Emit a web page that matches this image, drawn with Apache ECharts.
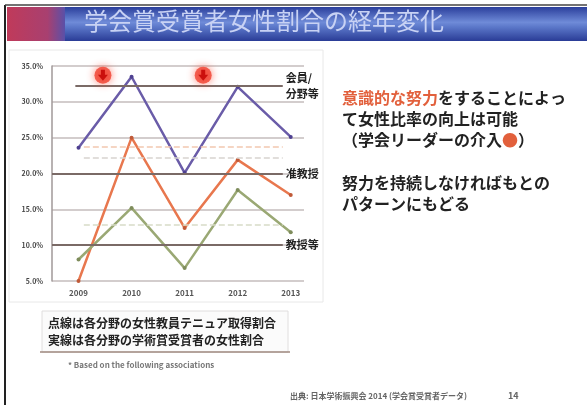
<!DOCTYPE html>
<html><head><meta charset="utf-8">
<script src="https://cdn.jsdelivr.net/npm/echarts@6/dist/echarts.min.js"></script>
<style>html,body{margin:0;padding:0;background:#fff}#c{width:587px;height:405px}</style>
</head><body><div id="c"></div>
<script>
var years = [2009, 2010, 2011, 2012, 2013];
var yTicks = [5, 10, 15, 20, 25, 30, 35];
var awardAll = [23.6, 33.5, 20.1, 32.1, 25.1];      // purple
var awardProf = [5.0, 25.0, 12.4, 21.9, 17.0];      // orange
var awardAssist = [8.0, 15.2, 6.8, 17.7, 11.8];     // green
var refLines = [
  {name: '会員/\n分野等', value: 32.3},
  {name: '准教授', value: 20.0},
  {name: '教授等', value: 10.0}
];
var faintLines = [23.7, 22.2, 12.8];
var interventions = [{x: 2009.46, y: 33.7}, {x: 2011.35, y: 33.7}];

var FONT = '"Noto Sans CJK JP", sans-serif';
function pts(arr){ return years.map(function(y,i){ return [y, arr[i]]; }); }

var chart = echarts.init(document.getElementById('c'));
var refData = refLines.map(function(r, i){
  var startX = i === 0 ? 2008.94 : 2008.5;
  return [
    {coord: [startX, r.value], lineStyle: {color: '#7a6a66', width: 2, type: 'solid'}},
    {coord: [2012.85, r.value], label: {show: true, position: 'end', formatter: r.name, color: '#222', fontSize: 11, fontWeight: 'bold', fontFamily: FONT, lineHeight: 16, distance: 3, overflow: 'none'}}
  ];
});
var faintColors = ['#f2c8b0', '#d8d4d0', '#d8dcc8'];
faintLines.forEach(function(v, i){
  refData.push([
    {coord: [2009.1, v], lineStyle: {color: faintColors[i], width: 1.5, type: 'dashed'}, label: {show: false}},
    {coord: [2012.85, v], label: {show: false}}
  ]);
});

chart.setOption({
  animation: false,
  grid: {left: 52, top: 66, bottom: 124, right: 283},
  xAxis: {
    type: 'value', min: 2008.5, max: 2013.25,
    splitLine: {show: false},
    axisLine: {show: false}, axisTick: {show: false},
    axisLabel: {customValues: years, formatter: function(v){ return String(v); }, color: '#555', fontSize: 8, fontWeight: 'bold', margin: 8, fontFamily: FONT}
  },
  yAxis: {
    type: 'value', min: 5, max: 35, interval: 5,
    axisLine: {show: true, lineStyle: {color: '#a09898', width: 1.5}},
    axisTick: {show: false},
    splitLine: {show: true, lineStyle: {color: '#c4bcbc', width: 1.5}},
    axisLabel: {formatter: function(v){ return v.toFixed(1) + '%'; }, color: '#444', fontSize: 7, fontWeight: 'bold', margin: 9, fontFamily: FONT}
  },
  series: [
    {type: 'line', data: [], markLine: {symbol: 'none', silent: true, label: {show: false}, data: refData}},
    {type: 'line', name: 'all', data: pts(awardAll), symbol: 'circle', symbolSize: 4,
      lineStyle: {color: '#6a5ca8', width: 2.5}, itemStyle: {color: '#4e4090'}},
    {type: 'line', name: 'prof', data: pts(awardProf), symbol: 'circle', symbolSize: 4,
      lineStyle: {color: '#e8774e', width: 2.5}, itemStyle: {color: '#c05a38'}},
    {type: 'line', name: 'assist', data: pts(awardAssist), symbol: 'circle', symbolSize: 4,
      lineStyle: {color: '#9aa874', width: 2.5}, itemStyle: {color: '#7e8c5c'}},
    {type: 'scatter', data: interventions.map(function(p){ return [p.x, p.y]; }),
      symbol: 'circle', symbolSize: 17,
      itemStyle: {color: '#f04030', shadowBlur: 8, shadowColor: 'rgba(255,80,60,0.9)'}, z: 5},
    {type: 'scatter', data: interventions.map(function(p){ return [p.x, p.y]; }),
      symbol: 'path://M3,0 L7,0 L7,5 L10,5 L5,11 L0,5 L3,5 Z', symbolSize: [10, 11],
      itemStyle: {color: '#c00000'}, z: 6}
  ],
  graphic: [
    {type: 'rect', shape: {x: 0, y: 0, width: 587, height: 405}, style: {fill: '#fff'}, z: -10},
    {type: 'rect', shape: {x: 9, y: 50, width: 314, height: 252}, style: {fill: 'none', stroke: '#e8e8e8', lineWidth: 1}, z: -5},
    {type: 'line', shape: {x1: 5, y1: 5, x2: 5, y2: 405}, style: {stroke: '#222', lineWidth: 2}},
    {type: 'line', shape: {x1: 5, y1: 5, x2: 587, y2: 5}, style: {stroke: '#444', lineWidth: 1.5}},
    {type: 'rect', shape: {x: 7, y: 7, width: 580, height: 34},
      style: {fill: new echarts.graphic.LinearGradient(0, 0, 0, 1, [
        {offset: 0, color: '#2b3f9c'}, {offset: 0.45, color: '#6f8bd8'}, {offset: 0.6, color: '#5a76c8'}, {offset: 1, color: '#2a3c96'}])}},
    {type: 'rect', shape: {x: 7, y: 7, width: 58, height: 34},
      style: {fill: new echarts.graphic.LinearGradient(0, 0, 1, 0, [
        {offset: 0, color: '#c03a5a'}, {offset: 0.7, color: '#a84070'}, {offset: 1, color: '#5a50a8'}])}},
    {type: 'text', left: 84, top: 9, style: {text: '学会賞受賞者女性割合の経年変化', fill: '#c8d2f4', font: '24px ' + FONT}},
    {type: 'rect', shape: {x: 42, y: 311, width: 246, height: 41}, style: {fill: '#fbfbfb', stroke: '#e0dede', lineWidth: 1}},
    {type: 'line', shape: {x1: 40, y1: 352, x2: 290, y2: 352}, style: {stroke: '#a08a80', lineWidth: 1.5}},
    {type: 'text', left: 48, top: 317, style: {text: '点線は各分野の女性教員テニュア取得割合', fill: '#222', font: 'bold 12px ' + FONT}},
    {type: 'text', left: 48, top: 334, style: {text: '実線は各分野の学術賞受賞者の女性割合', fill: '#222', font: 'bold 12px ' + FONT}},
    {type: 'text', left: 68, top: 361, style: {text: '* Based on the following associations', fill: '#777', font: 'bold 8px ' + FONT}},
    {type: 'text', left: 290, top: 392, style: {text: '出典: 日本学術振興会 2014 (学会賞受賞者データ)', fill: '#666', font: 'bold 8px ' + FONT}},
    {type: 'text', left: 508, top: 391, style: {text: '14', fill: '#666', font: 'bold 9px ' + FONT}},
    {type: 'text', left: 342, top: 90, style: {
      text: '{r|意識的な努力}{k|をすることによっ}\n{k|て女性比率の向上は可能}\n{k|（学会リーダーの介入}{r|●}{k|）}',
      rich: {r: {fill: '#e2603c', font: 'bold 16px ' + FONT, lineHeight: 21}, k: {fill: '#222', font: 'bold 16px ' + FONT, lineHeight: 21}}}},
    {type: 'text', left: 342, top: 172, style: {
      text: '努力を持続しなければもとの\nパターンにもどる', fill: '#222', font: 'bold 16px ' + FONT, lineHeight: 21}}
  ]
});
</script></body></html>
